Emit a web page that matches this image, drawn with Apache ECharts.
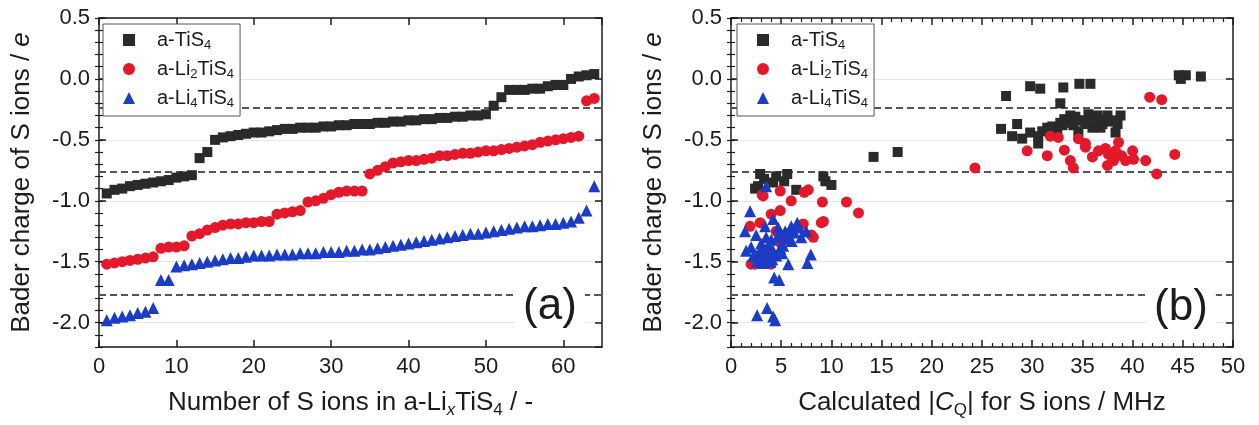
<!DOCTYPE html>
<html>
<head>
<meta charset="utf-8">
<script src="https://cdn.jsdelivr.net/npm/echarts@6/dist/echarts.min.js"></script>
<style>
  html, body { margin: 0; padding: 0; background: #fff; }
  #chart { width: 1259px; height: 425px; }
</style>
</head>
<body>
<div id="chart"></div>
<script>
// Series names (legend keys)
const seriesNames = ['a-TiS4', 'a-Li2TiS4', 'a-Li4TiS4'];

// (a) Bader charge of each S ion, sorted; x = ion number 1..64
const tis4Charge = [
  -0.94, -0.91, -0.90, -0.88, -0.87, -0.86, -0.85, -0.84, -0.83, -0.81, -0.80, -0.79,
  -0.65, -0.60, -0.50, -0.48, -0.47, -0.46, -0.45, -0.44, -0.44, -0.43, -0.42, -0.41,
  -0.41, -0.40, -0.40, -0.40, -0.39, -0.39, -0.38, -0.38, -0.37, -0.37, -0.37, -0.36,
  -0.36, -0.35, -0.35, -0.34, -0.34, -0.33, -0.33, -0.32, -0.32, -0.31, -0.31, -0.30,
  -0.30, -0.29, -0.22, -0.15, -0.09, -0.09, -0.09, -0.08, -0.08, -0.06, -0.05, -0.05,
   0.00,  0.02,  0.03,  0.04
];
const li2Charge = [
  -1.52, -1.51, -1.50, -1.49, -1.48, -1.47, -1.46, -1.39, -1.38, -1.38, -1.37, -1.29,
  -1.27, -1.24, -1.22, -1.20, -1.19, -1.19, -1.18, -1.18, -1.17, -1.17, -1.11, -1.10,
  -1.09, -1.08, -1.01, -1.00, -0.98, -0.95, -0.93, -0.92, -0.92, -0.92, -0.78, -0.75,
  -0.72, -0.69, -0.68, -0.67, -0.67, -0.66, -0.65, -0.63, -0.63, -0.62, -0.61, -0.61,
  -0.60, -0.59, -0.59, -0.58, -0.57, -0.56, -0.55, -0.54, -0.52, -0.51, -0.50, -0.49,
  -0.48, -0.47, -0.18, -0.16
];
const li4Charge = [
  -1.98, -1.96, -1.95, -1.94, -1.92, -1.91, -1.88, -1.65, -1.65, -1.54, -1.53, -1.52,
  -1.51, -1.50, -1.49, -1.48, -1.47, -1.47, -1.46, -1.45, -1.45, -1.45, -1.44, -1.44,
  -1.44, -1.43, -1.43, -1.43, -1.42, -1.42, -1.42, -1.41, -1.41, -1.40, -1.40, -1.39,
  -1.38, -1.37, -1.36, -1.35, -1.34, -1.33, -1.32, -1.31, -1.30, -1.29, -1.28, -1.27,
  -1.27, -1.26, -1.25, -1.24, -1.23, -1.22, -1.21, -1.21, -1.20, -1.19, -1.19, -1.18,
  -1.17, -1.14, -1.08, -0.88
];

// (b) [|CQ| / MHz, Bader charge / e]
const tis4CqPoints = [
  [2.4, -0.90], [2.7, -0.88], [2.9, -0.78], [3.3, -0.82], [4.2, -0.85], [4.5, -0.80],
  [5.3, -0.84], [5.6, -0.78], [6.5, -0.91], [9.2, -0.80], [9.4, -0.84], [10.0, -0.87],
  [14.2, -0.64], [16.6, -0.60],
  [26.9, -0.41], [27.4, -0.14], [28.0, -0.47], [28.5, -0.37], [29.0, -0.49], [29.8, -0.44],
  [29.8, -0.06], [30.6, -0.53], [30.6, -0.47], [30.8, -0.08], [31.0, -0.43], [31.5, -0.40],
  [32.0, -0.39], [32.5, -0.41], [32.8, -0.20], [32.8, -0.36], [33.0, -0.38], [33.1, -0.07],
  [33.2, -0.33], [33.5, -0.36], [33.8, -0.30], [34.0, -0.33], [34.1, -0.38], [34.3, -0.31],
  [34.5, -0.34], [34.6, -0.43], [34.7, -0.04], [35.1, -0.34], [35.3, -0.37], [35.6, -0.29],
  [35.8, -0.31], [35.8, -0.04], [36.0, -0.40], [36.3, -0.36], [36.5, -0.30], [36.8, -0.33],
  [36.8, -0.40], [37.0, -0.37], [37.2, -0.33], [37.5, -0.30], [37.8, -0.35], [38.1, -0.34],
  [38.3, -0.44], [38.5, -0.37], [38.8, -0.30], [44.6, 0.03], [44.8, 0.00], [45.3, 0.03],
  [46.8, 0.02]
];
const li2CqPoints = [
  [1.9, -1.21], [2.0, -1.52], [2.4, -1.52], [2.9, -1.18], [3.0, -1.45], [3.1, -0.95],
  [3.2, -0.96], [3.5, -1.40], [4.0, -1.11], [4.0, -1.52], [4.5, -1.25], [4.9, -1.08],
  [4.9, -0.92], [5.0, -1.35], [6.0, -1.00], [7.2, -1.19], [7.3, -0.93], [7.7, -0.91],
  [8.0, -1.28], [8.2, -1.30], [9.0, -1.18], [9.1, -1.01], [9.2, -1.17], [11.5, -1.01],
  [12.7, -1.10],
  [24.3, -0.73], [29.5, -0.59], [31.5, -0.63], [31.8, -0.47], [32.6, -0.48], [33.2, -0.585],
  [33.8, -0.67], [34.1, -0.73], [34.6, -0.49], [35.3, -0.53], [35.3, -0.56], [36.0, -0.64],
  [36.6, -0.59], [37.3, -0.57], [37.5, -0.71], [37.6, -0.62], [38.1, -0.67], [38.3, -0.59],
  [38.6, -0.52], [38.9, -0.63], [39.3, -0.67], [40.0, -0.59], [40.1, -0.66], [41.3, -0.67],
  [42.4, -0.78], [44.2, -0.62], [41.7, -0.15], [42.9, -0.17]
];
const li4CqPoints = [
  [1.4, -1.25], [1.5, -1.41], [1.9, -1.085], [2.0, -1.38], [2.2, -1.455], [2.5, -1.28],
  [2.5, -1.45], [2.6, -1.50], [2.6, -1.94], [2.8, -1.48], [2.9, -1.41], [3.0, -1.35],
  [3.1, -1.42], [3.2, -1.51], [3.3, -1.46], [3.4, -1.21], [3.5, -1.30], [3.5, -0.88],
  [3.6, -1.44], [3.6, -1.88], [3.8, -1.36], [3.9, -1.50], [4.0, -1.32], [4.1, -1.48],
  [4.2, -1.15], [4.2, -1.41], [4.2, -1.95], [4.3, -1.63], [4.4, -1.98], [4.5, -1.45],
  [4.6, -1.30], [4.7, -1.22], [4.8, -1.65], [4.9, -1.39], [5.0, -1.27], [5.1, -1.43],
  [5.2, -1.37], [5.4, -1.25], [5.6, -1.31], [5.7, -1.52], [5.9, -1.24], [6.0, -1.21],
  [6.05, -1.33], [6.3, -1.26], [6.6, -1.18], [6.8, -1.22], [7.0, -1.30], [7.5, -1.25],
  [7.6, -1.51], [7.95, -1.44]
];

// Horizontal reference levels (dashed)
const refLevels = [-0.24, -0.76, -1.77];

// Axis ranges and steps
const yMin = -2.2, yMax = 0.5;
const xMaxA = 65, xStepA = 10;
const xMaxB = 50, xStepB = 5;

const FONT = '"Liberation Sans", Arial, Helvetica, sans-serif';
const INK = '#1c1c1c';
const COLORS = ['#2a2a2a', '#e3182a', '#1a3cc6'];
const SYMBOLS = ['rect', 'circle', 'triangle'];
const SIZES = [10, 11, 12];

const nameRich = {
  t:  { fontFamily: FONT, fontSize: 26, color: INK, lineHeight: 32 },
  i:  { fontFamily: FONT, fontSize: 26, color: INK, lineHeight: 32, fontStyle: 'italic' },
  s:  { fontFamily: FONT, fontSize: 17, color: INK, lineHeight: 13, verticalAlign: 'bottom' },
  si: { fontFamily: FONT, fontSize: 17, color: INK, lineHeight: 13, verticalAlign: 'bottom', fontStyle: 'italic' }
};
const legendRich = {
  g: { fontFamily: FONT, fontSize: 20, width: 17, lineHeight: 24 },
  t: { fontFamily: FONT, fontSize: 20, color: INK, lineHeight: 24 },
  s: { fontFamily: FONT, fontSize: 13, color: INK, lineHeight: 10, verticalAlign: 'bottom' }
};
const legendText = {
  'a-TiS4': '{g| }{t|a-TiS}{s|4}',
  'a-Li2TiS4': '{g| }{t|a-Li}{s|2}{t|TiS}{s|4}',
  'a-Li4TiS4': '{g| }{t|a-Li}{s|4}{t|TiS}{s|4}'
};

const frame = { color: INK, width: 1.5 };
const fmt1 = v => (Math.abs(v) < 1e-9 ? '0.0' : v.toFixed(1));

function xAxes(grid, max, step, withMinor, name) {
  const base = {
    gridIndex: grid, type: 'value', min: 0, max: max, interval: step,
    axisLine: { show: true, onZero: false, lineStyle: frame },
    axisTick: { show: true, inside: true, length: 7, lineStyle: frame },
    minorTick: { show: withMinor, splitNumber: 5, length: 4, lineStyle: { color: INK, width: 1.2 } },
    splitLine: { show: false }
  };
  return [
    Object.assign({}, base, {
      position: 'bottom',
      axisLabel: { fontFamily: FONT, fontSize: 22, color: INK, margin: 9, showMaxLabel: max % step === 0 },
      name: name, nameLocation: 'middle', nameGap: 40,
      nameTextStyle: { rich: nameRich }
    }),
    Object.assign({}, base, { position: 'top', axisLabel: { show: false } })
  ];
}

function yAxes(grid) {
  const major = {
    gridIndex: grid, type: 'value', min: yMin, max: yMax,
    axisLine: { show: true, onZero: false, lineStyle: frame },
    axisTick: { show: true, inside: true, length: 7, lineStyle: frame },
    splitLine: { show: false }, axisLabel: { show: false }
  };
  const minor = {
    gridIndex: grid, type: 'value', min: yMin, max: yMax, interval: 0.1,
    axisLine: { show: false },
    axisTick: { show: true, inside: true, length: 4, lineStyle: { color: INK, width: 1.2 } },
    splitLine: { show: false }, axisLabel: { show: false }
  };
  return [
    Object.assign({}, major, {
      position: 'left',
      axisLabel: { show: true, fontFamily: FONT, fontSize: 22, color: INK, margin: 9,
                   showMinLabel: false, formatter: fmt1 },
      splitLine: { show: true, lineStyle: { color: '#e6e6e6', width: 1 } },
      name: '{t|Bader charge of S ions / }{i|e}', nameLocation: 'middle', nameGap: 61,
      nameTextStyle: { rich: nameRich }
    }),
    Object.assign({}, minor, { position: 'left' }),
    Object.assign({}, major, { position: 'right' }),
    Object.assign({}, minor, { position: 'right' })
  ];
}

function legendFor(left) {
  return {
    data: seriesNames, orient: 'vertical', left: left, top: 24, z: 20,
    padding: [6, 6, 6, 20], itemGap: 7, itemWidth: 12, itemHeight: 12,
    backgroundColor: '#fff', borderColor: '#555', borderWidth: 1,
    selectedMode: false,
    formatter: n => legendText[n],
    textStyle: { rich: legendRich }
  };
}

const refLine = {
  silent: true, symbol: 'none', animation: false, z: 2,
  label: { show: false },
  lineStyle: { color: '#555', type: [7, 4], width: 2 },
  data: refLevels.map(v => ({ yAxis: v }))
};

const chargeSeries = [tis4Charge, li2Charge, li4Charge];
const cqSeries = [tis4CqPoints, li2CqPoints, li4CqPoints];

const series = [];
chargeSeries.forEach((vals, k) => {
  series.push({
    type: 'scatter', name: seriesNames[k], xAxisIndex: 0, yAxisIndex: 0,
    symbol: SYMBOLS[k], symbolSize: SIZES[k], itemStyle: { color: COLORS[k], opacity: 1 },
    data: vals.map((v, i) => [i + 1, v]),
    markLine: k === 0 ? refLine : undefined, z: 3
  });
});
cqSeries.forEach((pts, k) => {
  series.push({
    type: 'scatter', name: seriesNames[k], xAxisIndex: 2, yAxisIndex: 4,
    symbol: SYMBOLS[k], symbolSize: SIZES[k], itemStyle: { color: COLORS[k], opacity: 1 },
    data: pts,
    markLine: k === 0 ? refLine : undefined, z: 3
  });
});

const option = {
  animation: false,
  backgroundColor: '#fff',
  grid: [
    { left: 99, top: 18, width: 503, height: 329 },
    { left: 731, top: 18, width: 502, height: 329 }
  ],
  xAxis: [].concat(
    xAxes(0, xMaxA, xStepA, false, '{t|Number of S ions in a-Li}{si|x}{t|TiS}{s|4}{t| / -}'),
    xAxes(1, xMaxB, xStepB, true, '{t|Calculated |}{i|C}{s|Q}{t|| for S ions / MHz}')
  ),
  yAxis: [].concat(yAxes(0), yAxes(1)),
  legend: [legendFor(103), legendFor(737)],
  graphic: [
    { type: 'text', x: 550, y: 307, z: 100,
      style: { text: '(a)', font: '44px ' + FONT, fill: INK, align: 'center', verticalAlign: 'middle',
               backgroundColor: '#fff', padding: [2, 8] } },
    { type: 'text', x: 1181, y: 308, z: 100,
      style: { text: '(b)', font: '44px ' + FONT, fill: INK, align: 'center', verticalAlign: 'middle',
               backgroundColor: '#fff', padding: [2, 8] } }
  ],
  series: series
};

const chart = echarts.init(document.getElementById('chart'), null, { renderer: 'canvas' });
chart.setOption(option);
</script>
</body>
</html>
